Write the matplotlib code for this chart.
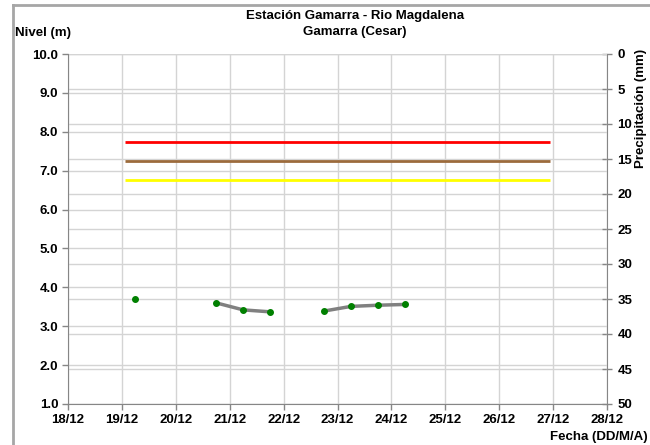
import numpy as np
import matplotlib
matplotlib.use("Agg")
import matplotlib.pyplot as plt
from matplotlib.lines import Line2D

plt.rcParams['font.family'] = ['Liberation Sans', 'DejaVu Sans']
plt.rcParams['font.weight'] = 'bold'

# ---- data ----
title_lines = ["Estación Gamarra - Rio Magdalena", "Gamarra (Cesar)"]
day_ticks = [18, 19, 20, 21, 22, 23, 24, 25, 26, 27, 28]
day_labels = ["18/12", "19/12", "20/12", "21/12", "22/12", "23/12",
              "24/12", "25/12", "26/12", "27/12", "28/12"]
level_ticks = [1.0, 2.0, 3.0, 4.0, 5.0, 6.0, 7.0, 8.0, 9.0, 10.0]
precip_ticks = [0, 5, 10, 15, 20, 25, 30, 35, 40, 45, 50]

obs_time = [19.25, 19.75, 20.25, 20.75, 21.25, 21.75, 22.25, 22.75, 23.25, 23.75, 24.25]
obs_level = [3.71, np.nan, np.nan, 3.60, 3.42, 3.37, np.nan, 3.39, 3.51, 3.54, 3.56]

threshold_start = 19.05
threshold_end = 26.95
threshold_red = 7.75
threshold_brown = 7.25
threshold_yellow = 6.75

# ---- figure ----
W, H = 650, 445
fig = plt.figure(figsize=(W / 100, H / 100), dpi=100)
fig.patch.set_facecolor('white')

FS = 9.5
L, R, T, B = 68, 607, 54, 404
ax = fig.add_axes([L / W, 1 - B / H, (R - L) / W, (B - T) / H])
ax2 = ax.twinx()

grid_c = '#d4d4d4'
spine_c = '#868686'

# right axis (precipitation) underneath
ax2.set_ylim(50, 0)
ax2.set_yticks(precip_ticks)
ax2.set_yticklabels([str(v) for v in precip_ticks], fontsize=FS, fontweight='bold')
ax2.grid(True, axis='y', color=grid_c, lw=1.0)
ax2.tick_params(axis='y', direction='inout', length=7, width=1, color=spine_c, pad=4)
for s in ['top', 'left', 'bottom']:
    ax2.spines[s].set_visible(False)
ax2.spines['right'].set_color(spine_c)

ax.set_zorder(ax2.get_zorder() + 1)
ax.patch.set_visible(False)

# left axis (level)
ax.set_xlim(day_ticks[0], day_ticks[-1])
ax.set_ylim(1.0, 10.0)
ax.set_xticks(day_ticks)
ax.set_xticklabels(day_labels, fontsize=FS, fontweight='bold')
ax.set_yticks(level_ticks)
ax.set_yticklabels([f"{v:.1f}" for v in level_ticks], fontsize=FS, fontweight='bold')
ax.grid(True, color=grid_c, lw=1.0)
ax.set_axisbelow(True)
ax.tick_params(axis='both', direction='out', length=4, width=1, color=spine_c, pad=3)
ax.spines['top'].set_visible(False)
ax.spines['right'].set_visible(False)
ax.spines['left'].set_color(spine_c)
ax.spines['bottom'].set_color(spine_c)

# thresholds
ax.hlines(threshold_red, threshold_start, threshold_end, color='#ff0000', lw=2.0)
ax.hlines(threshold_brown, threshold_start, threshold_end, color='#9c6b3c', lw=2.0)
ax.hlines(threshold_yellow, threshold_start, threshold_end, color='#ffff00', lw=2.0)

# observations
ax.plot(obs_time, obs_level, color='#808080', lw=2.5, solid_capstyle='round', zorder=3)
ax.plot(obs_time, obs_level, ls='none', marker='o', ms=4.0, color='#008000',
        mec='#008000', zorder=4)

# texts
fig.text(355 / W, 1 - 16 / H, title_lines[0], ha='center', va='center',
         fontsize=FS, fontweight='bold')
fig.text(355 / W, 1 - 32 / H, title_lines[1], ha='center', va='center',
         fontsize=FS, fontweight='bold')
fig.text(15 / W, 1 - 33 / H, "Nivel (m)", ha='left', va='center',
         fontsize=FS, fontweight='bold')
fig.text(648 / W, 1 - 437 / H, "Fecha (DD/M/A)", ha='right', va='center',
         fontsize=FS, fontweight='bold')
fig.text(641 / W, 1 - 108 / H, "Precipitación (mm)", ha='center', va='center',
         rotation=90, fontsize=FS, fontweight='bold')

# chart border
fig.add_artist(Line2D([13 / W, 13 / W], [0, 1 - 5 / H], color='#a6a6a6', lw=2,
                      transform=fig.transFigure))
fig.add_artist(Line2D([13 / W, 1], [1 - 5 / H, 1 - 5 / H], color='#a6a6a6', lw=2,
                      transform=fig.transFigure))

fig.savefig('out.png', dpi=100)
